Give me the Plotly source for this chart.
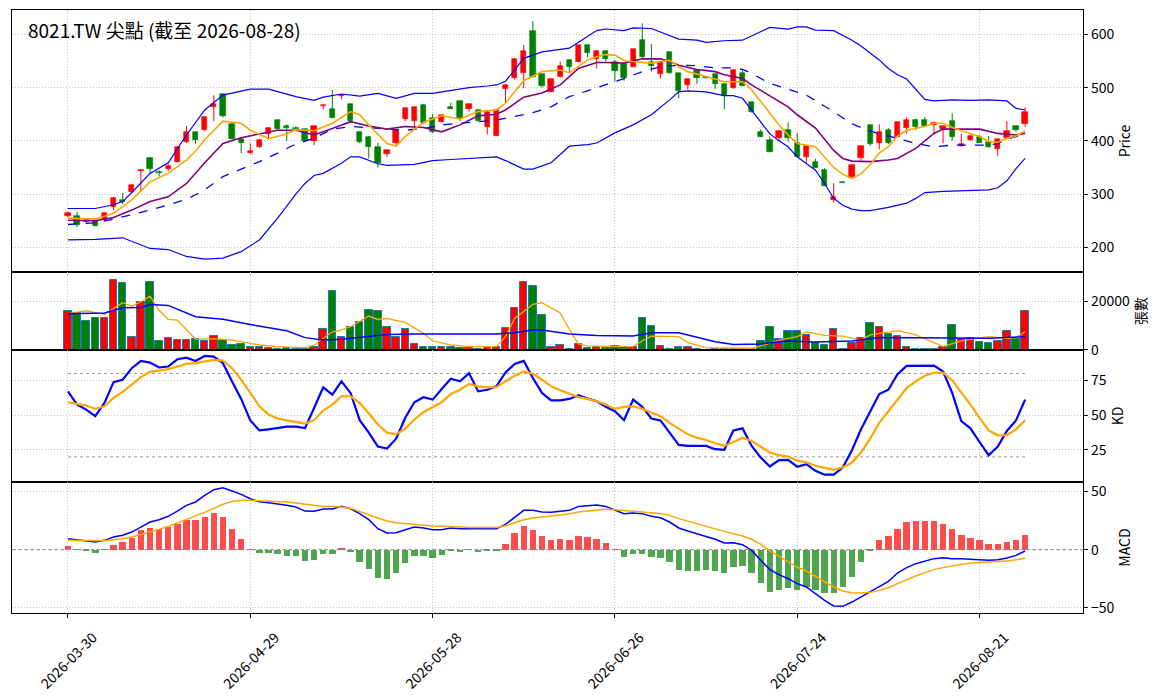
import plotly.graph_objects as go

# ---------------- data ----------------
tick_pos = [0, 20, 40, 60, 80, 100]
tick_labels = ["2026-03-30", "2026-04-29", "2026-05-28", "2026-06-26", "2026-07-24", "2026-08-21"]

opens = [259.6, 259.6, 252.7, 251.4, 251.4, 276.5, 289, 304.6, 344, 367.8,
         341.6, 347.2, 361, 398.5, 416.6, 420.4, 464, 487.4, 432.3, 403.5,
         376.6, 389, 413, 439, 427, 425, 422, 400.4, 466, 459.8,
         484, 468.6, 416.6, 407, 389, 375.3, 395.4, 440.4, 437, 467.3,
         442.3, 436, 463, 474.8, 459.2, 458, 426.7, 409.8, 496.7, 517.4,
         526.8, 606.3, 525.5, 492.4, 520.5, 551.8, 548.7, 580.6, 553, 568.7,
         548, 543.7, 539.3, 589.4, 548.7, 525.5, 566.2, 526.8, 504.3, 533,
         520, 525.5, 506.8, 500, 526.8, 472.3, 416.6, 401.6, 406, 420.4,
         395.4, 370.3, 360.3, 345.3, 289, 322.5, 329.7, 368.5, 429.8, 395.4,
         420.4, 408, 423.5, 439.2, 439.2, 430, 422, 437.3, 390.4, 401.6,
         408, 397.2, 384, 406, 428.5, 431.7]
highs = [267, 267, 255, 254, 265, 295, 301.5, 318, 347, 370,
         345, 357, 390, 428, 417, 446, 485.5, 488, 433, 404,
         395.4, 404, 425, 440, 431, 427, 423, 428, 468, 495.5,
         488, 470, 417, 409, 396.6, 384, 421, 462, 463.5, 468,
         450.4, 449, 471.7, 476, 470, 459, 458, 460, 506, 555,
         580, 625, 526, 517, 548.7, 552, 581, 581, 569.5, 569.5,
         551.8, 544.5, 573, 620.6, 581.9, 550, 567, 527.5, 517, 534,
         520.5, 526, 508, 534, 531.8, 473, 422, 408, 419, 434.8,
         415.4, 391, 366, 348.7, 320.3, 323, 356, 391, 431, 431,
         424, 436, 444, 442, 445, 437, 429, 451.7, 413, 410,
         411, 409, 404, 437, 429, 463]
lows = [257, 237.7, 244, 240, 250, 270, 281, 303, 305, 339,
        333, 343, 360, 396, 395, 418, 437, 444, 402, 376.6,
        376, 387, 403, 420, 400, 420, 399, 392, 459, 443,
        478, 436, 396, 367.2, 350, 370, 390, 437, 423.5, 432,
        415, 435, 460, 437, 455, 436, 412.3, 409, 469.2, 515,
        498.6, 519, 500, 491, 520, 528, 548, 557, 536, 549,
        511, 513, 538, 555, 530, 517.4, 526, 479.8, 497, 507,
        517, 497, 459.2, 498, 503, 453, 407, 379, 399, 398.5,
        369, 359, 349, 315, 284, 321, 328, 363, 391, 384,
        394, 407, 414, 420, 427, 413, 395.4, 400.4, 389, 400,
        396, 387, 372, 405, 417, 426]
closes = [265.2, 242, 247, 240.8, 264.6, 292, 286, 317, 346, 347.8,
          339.7, 353.3, 388.5, 416.6, 402.2, 444, 468.6, 446.7, 403.5, 396.6,
          381, 402, 424, 422, 425, 422, 399.7, 427.9, 468, 443.6,
          487, 437, 398.5, 389, 357.8, 383, 420.4, 461, 463, 434,
          417.3, 448, 460.5, 441.6, 469.2, 437, 454.8, 458, 504.9, 553.7,
          568.7, 519.3, 503, 516, 540.5, 539.3, 580.6, 564.3, 568.7, 554.3,
          531.8, 517.4, 572.5, 558, 541.2, 548.7, 526.8, 494.2, 515.5, 518.7,
          518, 506, 484.2, 533, 503.6, 453.6, 407.9, 379.7, 418.5, 406,
          369.5, 390.4, 349.7, 315.9, 294, 321.5, 354.7, 390.4, 393.4, 417.3,
          395.4, 435.4, 439.2, 426.7, 428, 433, 427.9, 408, 394, 409,
          396.6, 387.7, 402.8, 418.5, 420.4, 453.6]

volume = [16000, 15300, 12050, 13000, 13400, 29000, 27800, 5200, 19900, 28200,
          3560, 4800, 4000, 4000, 4400, 3700, 5600, 4250, 1900, 2300,
          1370, 1370, 700, 270, 700, 270, 400, 1370, 8500, 24500,
          5500, 9600, 11400, 16700, 15900, 9600, 5500, 8500, 2300, 1100,
          1100, 1370, 1370, 700, 960, 550, 700, 1370, 8900, 17500,
          28200, 26300, 14250, 1370, 1900, 550, 2300, 960, 1100, 820,
          1780, 1230, 1370, 13000, 10100, 1500, 400, 1100, 1100, 400,
          140, 400, 400, 550, 550, 550, 3700, 9600, 4400, 7700,
          7950, 6300, 3000, 1900, 8500, 400, 2700, 5100, 11000, 9600,
          6400, 5600, 1100, 550, 550, 400, 1100, 10500, 4400, 5100,
          3300, 2700, 3700, 7700, 4500, 15900]

# price overlays (sampled at bar indices)
ma5_idx = [0, 3, 5, 7, 9, 11, 13, 14, 15, 17, 19, 20, 22, 24, 25, 27, 29, 31, 32, 33,
           35, 36, 37, 39, 41, 43, 45, 47, 48, 50, 52, 54, 55, 57, 58, 59, 60, 61, 62, 64,
           65, 66, 67, 68, 70, 72, 74, 75, 76, 77, 78, 79, 80, 82, 83, 84, 85, 86, 87, 88,
           89, 90, 91, 92, 94, 95, 96, 97, 98, 99, 100, 101, 102, 103, 104, 105]
ma5_val = [255, 253, 264, 289, 323, 339, 364, 381, 402, 437, 433, 420, 404, 413, 421, 419, 433, 455, 449, 430,
           395, 390, 408, 435, 447, 441, 455, 458, 471, 513, 530, 533, 528, 552, 558, 562, 561, 551, 549, 546,
           549, 551, 539, 530, 521, 511, 511, 496, 474, 452, 430, 411, 395, 389, 370, 350, 337, 330, 338, 355,
           377, 389, 409, 420, 427, 433, 433, 425, 419, 414, 408, 399, 397, 405, 409, 419]

ma10_idx = [0, 3, 5, 7, 9, 11, 13, 15, 17, 19, 21, 23, 25, 26, 27, 29, 31, 33, 35, 37,
            39, 41, 43, 45, 47, 48, 50, 52, 54, 56, 58, 59, 61, 63, 65, 66, 67, 69, 71, 72,
            74, 75, 77, 79, 80, 82, 84, 85, 86, 88, 90, 91, 93, 95, 96, 97, 99, 100, 102, 104, 105]
ma10_val = [251, 250, 256, 270, 286, 295, 320, 359, 395, 406, 413, 420, 420, 415, 411, 423, 436, 428, 422, 427,
            425, 417, 430, 447, 450, 458, 482, 490, 505, 536, 547, 547, 546, 554, 554, 549, 542, 534, 530, 524,
            517, 505, 484, 464, 449, 424, 382, 367, 362, 361, 364, 367, 386, 414, 422, 422, 422, 422, 414, 411, 414]

ma20_idx = [0, 3, 5, 7, 9, 11, 13, 15, 17, 19, 21, 23, 25, 27, 29, 31, 33, 35, 37, 39,
            41, 43, 45, 47, 49, 51, 53, 55, 57, 59, 61, 63, 65, 67, 69, 71, 73, 74, 75, 76,
            77, 79, 81, 83, 84, 85, 86, 87, 89, 91, 93, 95, 97, 99, 101, 102, 103, 104, 105]
ma20_val = [243, 246, 253, 261, 270, 280, 290, 308, 333, 347, 361, 377, 394, 405, 422, 427, 425, 422, 420, 423,
            430, 433, 436, 439, 446, 453, 464, 483, 494, 505, 517, 530, 539, 542, 541, 537, 537, 534, 527, 517,
            508, 497, 486, 465, 455, 443, 432, 425, 413, 405, 395, 389, 392, 392, 392, 395, 403, 408, 414]

bb_up_idx = [0, 3, 5, 6, 7, 9, 11, 13, 15, 17, 20, 22, 25, 27, 28, 30, 32, 34, 36, 38,
             40, 42, 44, 46, 47, 48, 50, 52, 54, 55, 56, 58, 59, 61, 62, 64, 67, 69, 70, 72,
             74, 76, 77, 79, 80, 81, 82, 84, 86, 87, 89, 90, 91, 92, 93, 94, 95, 97, 99, 101,
             103, 104, 105]
bb_up_val = [273, 273, 280, 286, 303, 339, 359, 411, 458, 486, 497, 497, 483, 476, 482, 488, 484, 489, 480, 489,
             489, 494, 500, 503, 505, 512, 555, 567, 572, 574, 585, 607, 610, 607, 612, 611, 591, 589, 585, 588,
             589, 605, 613, 610, 614, 614, 608, 607, 589, 578, 552, 536, 524, 516, 496, 478, 475, 477, 476, 477,
             475, 461, 458]

bb_lo_idx = [0, 3, 6, 7, 9, 11, 13, 15, 17, 19, 21, 23, 25, 26, 27, 28, 30, 31, 32, 34,
             35, 38, 40, 42, 44, 46, 47, 48, 50, 51, 53, 55, 57, 58, 60, 62, 64, 66, 67, 68,
             70, 72, 73, 74, 75, 76, 77, 78, 79, 80, 81, 82, 83, 84, 85, 86, 87, 88, 90, 92,
             93, 94, 96, 99, 101, 102, 103, 104, 105]
bb_lo_val = [214, 215, 218, 211, 198, 196, 183, 178, 180, 192, 214, 255, 300, 320, 335, 339, 358, 370, 370, 357,
             354, 356, 363, 365, 367, 370, 370, 363, 347, 347, 359, 390, 393, 396, 415, 430, 449, 477, 492, 494,
             492, 485, 485, 480, 458, 434, 413, 400, 389, 370, 358, 345, 320, 292, 279, 272, 269, 269, 275, 283,
             292, 303, 305, 306, 308, 312, 325, 348, 367]

# volume moving averages (sampled)
vma5_idx = [0, 2, 4, 6, 7, 8, 9, 10, 11, 12, 14, 16, 18, 21, 23, 26, 27, 29, 30, 31,
            33, 34, 35, 37, 39, 40, 42, 44, 47, 48, 49, 51, 52, 54, 55, 56, 57, 60, 62, 63,
            64, 67, 68, 70, 73, 75, 76, 78, 80, 81, 83, 85, 87, 88, 91, 93, 95, 96, 98, 100,
            101, 103, 104, 105]
vma5_val = [15000, 16200, 14700, 19500, 18100, 19900, 22200, 16400, 12600, 12300, 4400, 4700, 4100, 2050, 1370, 960, 2050, 7500, 8200, 9600,
            14000, 12600, 13000, 11400, 6850, 3800, 2050, 1370, 1370, 5500, 13000, 18800, 19500, 15300, 8500, 2500, 1650, 1650, 1370, 3800,
            5750, 5500, 3000, 960, 700, 700, 1650, 4100, 5500, 7500, 6000, 5750, 4100, 6200, 7950, 6200, 3000, 1370, 3800, 4800,
            5500, 4800, 5100, 7500]

vma20_idx = [0, 4, 6, 8, 9, 11, 14, 17, 20, 24, 26, 28, 30, 33, 35, 38, 43, 47, 49, 51,
             52, 55, 58, 60, 62, 64, 67, 71, 73, 76, 79, 82, 86, 89, 93, 97, 101, 105]
vma20_val = [15000, 15300, 17400, 17500, 18800, 18400, 13700, 12700, 10500, 7900, 5100, 4100, 4400, 5500, 6400, 6600, 6600, 6600, 7100, 8200,
             8200, 6600, 6000, 5750, 5750, 7100, 7100, 3400, 2300, 2500, 3700, 3300, 3700, 5100, 5100, 4900, 4800, 5500]

k_val = [67.1, 57.6, 54, 49.3, 58.8, 73.8, 75.5, 83.8, 89, 87.8,
         84.3, 85, 90.2, 91.4, 89, 92.6, 92.1, 87.4, 74.3, 61.7,
         46.2, 39, 39.8, 41, 41.7, 41.7, 40.7, 55.2, 70, 64.8,
         74.3, 66, 46.4, 37.4, 27.4, 26, 33.1, 48.1, 59.3, 62.9,
         61.2, 68.8, 76.2, 74.3, 80.2, 67.1, 68.3, 70.7, 80.7, 86.9,
         89, 76.7, 66, 60.7, 60.7, 61.7, 64.3, 61.9, 60, 56,
         52.9, 46.4, 61.2, 56, 47.6, 46.2, 37.4, 28.6, 27.9, 27.9,
         27.9, 25.5, 25, 39, 40.5, 27.9, 19.5, 13.1, 17.6, 17.9,
         12.9, 14.8, 10, 7.2, 7.2, 12.4, 24.8, 39.8, 52.9, 65.2,
         68.3, 79.5, 85.5, 85.7, 85.7, 85.7, 81.4, 66, 45.7, 40.5,
         30.7, 21.2, 27.4, 38.6, 46.2, 61.2]
d_val = [59.3, 58.3, 56.9, 54.5, 56.4, 62.4, 66.7, 71.9, 77.4, 81.2,
         82.1, 83.1, 85, 86.9, 87.4, 88.6, 89.8, 89.3, 83.8, 75.5,
         66, 56.4, 50.5, 47.6, 46.2, 45, 44, 46.4, 53.3, 57.6,
         63.6, 63.6, 58.8, 51.2, 43.3, 37.4, 36.2, 40.2, 46.9, 52.1,
         56, 59.3, 65.2, 68.3, 72.4, 70.7, 70, 70.2, 74.3, 78.3,
         81.4, 79.8, 75.5, 70.7, 67.9, 65.5, 63, 61.7, 60, 57.6,
         54.5, 55.9, 56.4, 54.5, 51.7, 49.3, 44.5, 40.2, 36.2, 33.8,
         32.1, 29.8, 27.9, 30.7, 33.8, 31.4, 27.4, 23.1, 21.2, 20.2,
         17.2, 16, 13.6, 11.9, 10.7, 12.4, 15.9, 23.1, 33.1, 44.5,
         52.9, 61.7, 69.5, 74.3, 78.3, 80.5, 80.7, 75, 66.4, 57.6,
         48.1, 39, 35.5, 35.7, 39.8, 46.4]
kd_levels = [20, 80]

dif = [9.4, 8.6, 7.4, 6.6, 8, 10.9, 12.3, 15.1, 19.4, 23.7,
       25.7, 28.6, 33.1, 38, 40.9, 46.6, 51.4, 53.1, 50.3, 47.4,
       43.7, 41.1, 40.3, 39.4, 38, 36.6, 33.1, 32.9, 34.9, 34.9,
       37.1, 35.1, 30.9, 25.7, 18, 14.3, 14.6, 17.1, 19.4, 18.6,
       17.1, 17.1, 18.6, 18, 18, 17.7, 17.4, 18, 21.7, 28,
       33.7, 33.7, 32.3, 32, 32.9, 33.7, 37.1, 38, 38.3, 37.1,
       34.3, 30.9, 31.4, 30.9, 28.6, 27.4, 23.7, 18.6, 16, 13.7,
       11.7, 8.9, 5.7, 6, 4.3, -0.6, -9.1, -17.1, -21.4, -24.9,
       -29.1, -32, -37.7, -43.4, -48.3, -48.6, -44.9, -40.6, -35.7, -32,
       -27.1, -20, -15.4, -12, -9.7, -7.7, -6.9, -7.7, -7.7, -8.3,
       -8.6, -9.1, -8.6, -7.1, -4.9, -1.1]
signal = [8, 8, 7.7, 7.4, 7.7, 8.6, 9.4, 10.9, 12.9, 15.1,
          17.4, 20, 22.9, 25.7, 28.6, 32, 35.4, 38.9, 41.4, 42.3,
          42.3, 42, 41.7, 41.4, 40.9, 40, 38.9, 37.7, 37.1, 37.1,
          36.6, 35.4, 32.9, 30, 27.1, 24.6, 23.1, 22.3, 21.7, 20.9,
          20.3, 20, 19.4, 19.4, 19.1, 19.1, 18.9, 19.1, 20.6, 23.1,
          25.7, 27.1, 28, 28.9, 29.7, 30.6, 32.3, 33.1, 34.3, 34.6,
          34.3, 33.7, 33.4, 32.9, 31.7, 30.9, 29.4, 26.6, 24.3, 22.3,
          20, 17.7, 15.7, 13.7, 11.7, 8.9, 4.6, -1.1, -5.7, -10.6,
          -14.9, -18.3, -22.9, -26.9, -32, -35.4, -36.9, -37.1, -36.6, -34.9,
          -32.6, -29.1, -25.7, -22.6, -19.7, -17.1, -15.4, -14, -12.6, -11.4,
          -10.9, -10.6, -10.3, -9.7, -8.6, -7.4]
hist = [2.9, -0.3, -1.1, -2.9, -0.3, 3.7, 6.3, 10.3, 16.6, 18.9,
        18, 19.4, 22.3, 25.7, 25.1, 27.7, 31.1, 27.7, 18, 9.4,
        0.3, -2.9, -2.9, -4, -5.1, -5.7, -9.7, -9.1, -4, -4,
        1.1, -2, -10.6, -16.9, -24.3, -25.4, -20.3, -11.4, -5.7, -5.7,
        -7.1, -4.9, -1.1, -2, -0.3, -2, -1.1, -1.1, 4.6, 14,
        20, 16.6, 11.4, 8, 8.9, 8, 11.4, 10.6, 8.9, 5.7,
        0.3, -6.3, -4, -4, -6.3, -7.1, -10.6, -17.1, -18, -18.3,
        -17.1, -18.3, -20, -14.9, -14.3, -20, -28.6, -36.3, -34.9, -32.9,
        -34.9, -32, -34.9, -37.1, -37, -32, -23.4, -10.6, -1.1, 8,
        11.4, 18, 23.4, 24.3, 24.3, 24.3, 21.7, 17.4, 12.3, 10.3,
        8, 4.6, 4.6, 6.3, 8, 12.3]

# ---------------- figure ----------------
FONT = "Noto Sans CJK TC"
RED, GREEN = "#ff0000", "#008000"
n = len(opens)
idx = list(range(n))
up = [c >= o for o, c in zip(opens, closes)]
candle_col = [RED if u else GREEN for u in up]

fig = go.Figure()

# wicks
for flag, col in ((True, RED), (False, GREEN)):
    wx, wy = [], []
    for i in idx:
        if up[i] == flag:
            wx += [i, i, None]
            wy += [lows[i], highs[i], None]
    fig.add_trace(go.Scatter(x=wx, y=wy, mode="lines", line=dict(color=col, width=1),
                             hoverinfo="skip", xaxis="x", yaxis="y"))
# bodies
fig.add_trace(go.Bar(x=idx, base=[min(o, c) for o, c in zip(opens, closes)],
                     y=[abs(c - o) for o, c in zip(opens, closes)], width=0.58,
                     marker=dict(color=candle_col, line=dict(color=candle_col, width=0.6)),
                     xaxis="x", yaxis="y"))

def line(xs, ys, color, width, dash="solid", xa="x", ya="y"):
    fig.add_trace(go.Scatter(x=xs, y=ys, mode="lines", line=dict(color=color, width=width, dash=dash),
                             xaxis=xa, yaxis=ya))

line(bb_up_idx, bb_up_val, "#0000ff", 1.2)
line(bb_lo_idx, bb_lo_val, "#0000ff", 1.2)
line(ma20_idx, ma20_val, "#0000ff", 1.3, "dash")
line(ma10_idx, ma10_val, "#800080", 1.6)
line(ma5_idx, ma5_val, "#ffa500", 1.6)

# volume
fig.add_trace(go.Bar(x=idx, y=volume, width=0.82,
                     marker=dict(color=candle_col, line=dict(color="#1f77b4", width=1)),
                     xaxis="x2", yaxis="y2"))
line(vma5_idx, vma5_val, "#ffa500", 1.3, xa="x2", ya="y2")
line(vma20_idx, vma20_val, "#0000ff", 1.5, xa="x2", ya="y2")

# KD
for lv in kd_levels:
    fig.add_trace(go.Scatter(x=[idx[0], idx[-1]], y=[lv, lv], mode="lines",
                             line=dict(color="#999999", width=1, dash="dot"), xaxis="x3", yaxis="y3"))
line(idx, k_val, "#0000ff", 2.2, xa="x3", ya="y3")
line(idx, d_val, "#ffa500", 2.2, xa="x3", ya="y3")

# MACD
fig.add_trace(go.Bar(x=idx, y=hist, width=0.7,
                     marker=dict(color=["#ff4d4d" if h >= 0 else "#4da64d" for h in hist], line=dict(width=0)),
                     xaxis="x4", yaxis="y4"))
fig.add_trace(go.Scatter(x=[-10, 120], y=[0, 0], mode="lines",
                         line=dict(color="#888888", width=1, dash="dot"), xaxis="x4", yaxis="y4"))
line(idx, dif, "#0000ff", 1.5, xa="x4", ya="y4")
line(idx, signal, "#ffa500", 1.5, xa="x4", ya="y4")

GRID = dict(showgrid=True, gridcolor="#c4c4c4", griddash="1px,2px", gridwidth=1,
            showline=True, linecolor="black", linewidth=1.2, mirror=True, zeroline=False,
            automargin=False)
tickfont = dict(family=FONT, size=14, color="black")
xrange = [-6.14, 111.35]

def xax(anchor, labels):
    d = dict(domain=[0, 1], range=xrange, anchor=anchor, tickvals=tick_pos, **GRID)
    if labels:
        d.update(ticktext=tick_labels, tickangle=-45, ticks="outside", ticklen=4,
                 tickcolor="black", tickfont=tickfont, ticklabelshift=25, ticklabelstandoff=6)
    else:
        d.update(showticklabels=False, ticks="", matches="x4")
    return d

def yax(domain, rng, tickvals, ticktext, title, anchor):
    return dict(domain=domain, range=rng, side="right", tickvals=tickvals, ticktext=ticktext,
                ticks="outside", ticklen=4, tickcolor="black", tickfont=tickfont,
                title=dict(text=title, font=dict(family=FONT, size=14, color="black"), standoff=6),
                anchor=anchor, **GRID)

# the page adds an 8px body margin, so the figure is sized to sit inside the window
fig.update_layout(
    width=1156, height=690,
    margin=dict(l=4, r=81, t=2, b=85, autoexpand=False),
    paper_bgcolor="white", plot_bgcolor="white",
    showlegend=False, barmode="overlay", bargap=0,
    font=dict(family=FONT, color="black"),
    xaxis=xax("y", False),
    xaxis2=xax("y2", False),
    xaxis3=xax("y3", False),
    xaxis4=xax("y4", True),
    yaxis=yax([0.5655, 1], [153.8, 645.7], [200, 300, 400, 500, 600],
              ["200", "300", "400", "500", "600"], "Price", "x"),
    yaxis2=yax([0.4362, 0.5655], [0, 32200], [0, 20000], ["0", "20000"], "張數", "x2"),
    yaxis3=yax([0.2172, 0.4362], [1.9, 96.9], [25, 50, 75], ["25", "50", "75"], "KD", "x3"),
    yaxis4=yax([0, 0.2172], [-54.3, 58], [-50, 0, 50], ["−50", "0", "50"], "MACD", "x4"),
    annotations=[dict(text="8021.TW 尖點 (截至 2026-08-28)", xref="paper", yref="paper",
                      x=0.013, y=0.967, xanchor="left", yanchor="middle", showarrow=False,
                      font=dict(family=FONT, size=19, color="black"))],
)

fig.write_html("out.html")
